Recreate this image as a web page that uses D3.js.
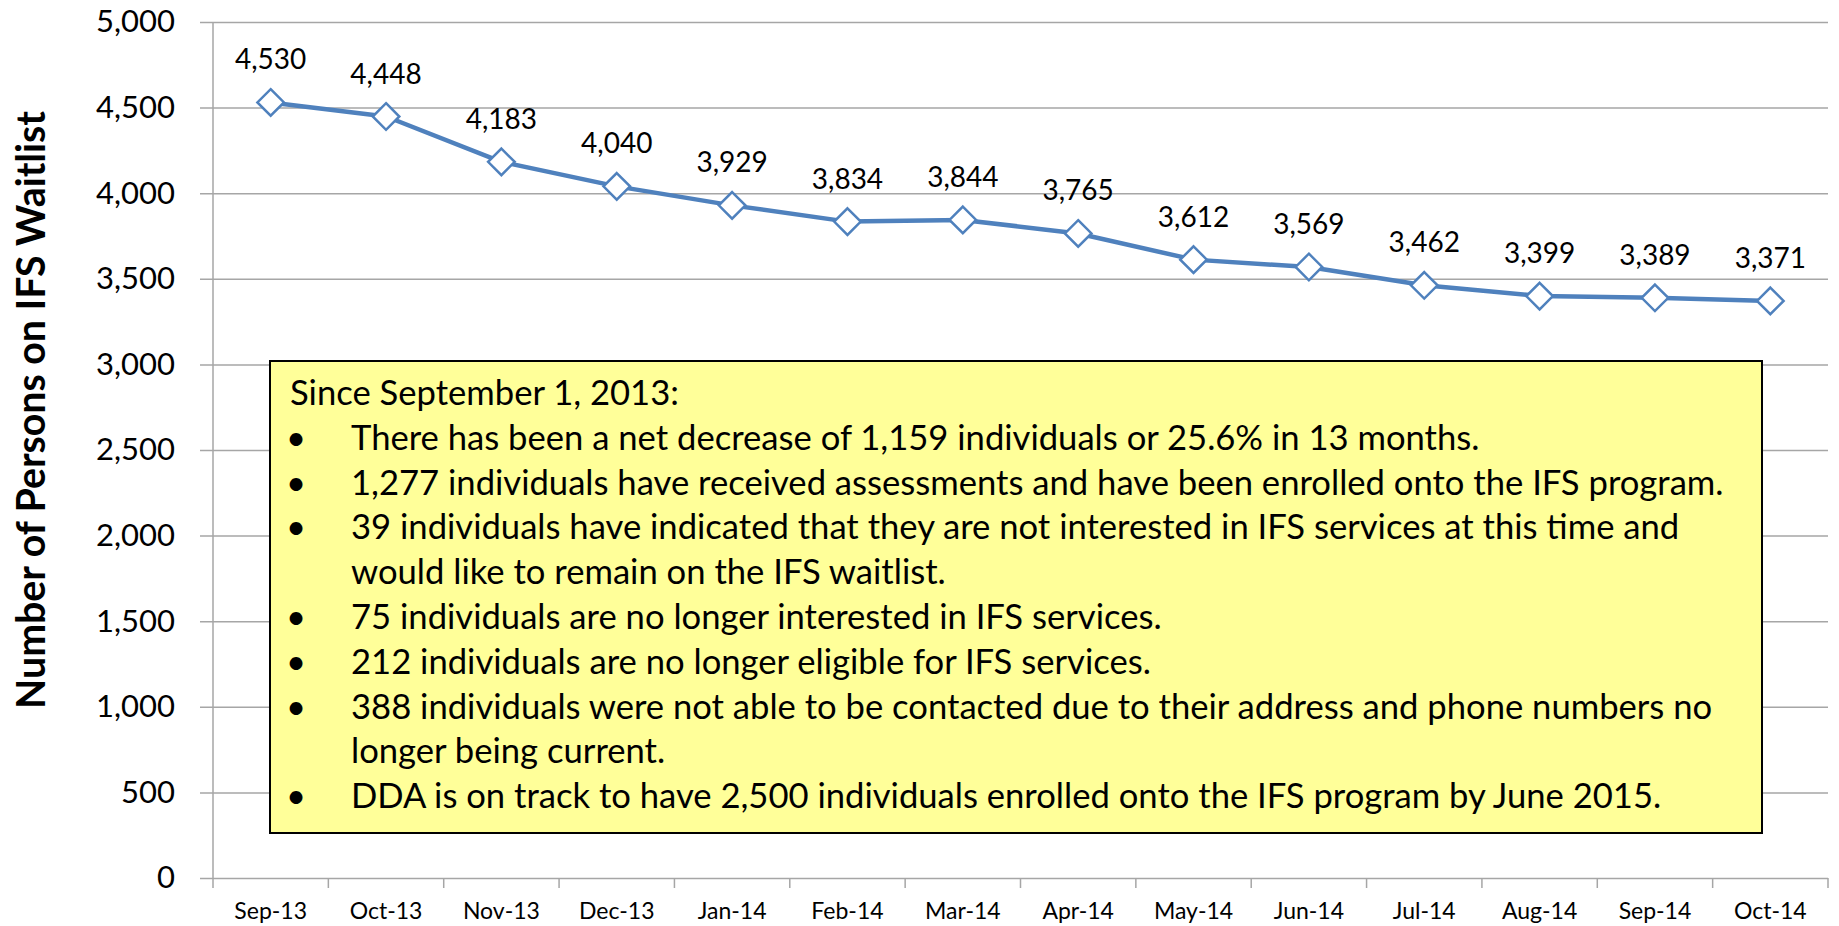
<!DOCTYPE html>
<html>
<head>
<meta charset="utf-8">
<script src="https://cdn.jsdelivr.net/npm/d3@7"></script>
<style>
  html, body { margin: 0; padding: 0; background: #fff; }
  svg { display: block; font-family: Lato, "Open Sans", sans-serif; }
</style>
</head>
<body>
<div id="chart"></div>
<script>
// Datos del gráfico
const months = ['Sep-13', 'Oct-13', 'Nov-13', 'Dec-13', 'Jan-14', 'Feb-14', 'Mar-14',
                'Apr-14', 'May-14', 'Jun-14', 'Jul-14', 'Aug-14', 'Sep-14', 'Oct-14'];
const waitlist = [4530, 4448, 4183, 4040, 3929, 3834, 3844, 3765, 3612, 3569, 3462, 3399, 3389, 3371];
const yTicks = [0, 500, 1000, 1500, 2000, 2500, 3000, 3500, 4000, 4500, 5000];
const noteTitle = 'Since September 1, 2013:';
const noteLines = [
  { bullet: true,  text: 'There has been a net decrease of 1,159 individuals or 25.6% in 13 months.' },
  { bullet: true,  text: '1,277 individuals have received assessments and have been enrolled onto the IFS program.' },
  { bullet: true,  text: '39 individuals have indicated that they are not interested in IFS services at this time and' },
  { bullet: false, text: 'would like to remain on the IFS waitlist.' },
  { bullet: true,  text: '75 individuals are no longer interested in IFS services.' },
  { bullet: true,  text: '212 individuals are no longer eligible for IFS services.' },
  { bullet: true,  text: '388 individuals were not able to be contacted due to their address and phone numbers no' },
  { bullet: false, text: 'longer being current.' },
  { bullet: true,  text: 'DDA is on track to have 2,500 individuals enrolled onto the IFS program by June 2015.' }
];

const width = 1839, height = 926;
const plot = { left: 213, right: 1828, top: 22, bottom: 878 };
const blue = '#4F81BD', grid = '#A6A6A6';
const fmt = d3.format(',');

const svg = d3.select('#chart').append('svg')
  .attr('width', width).attr('height', height);

// Escalas
const x = d3.scaleBand().domain(months).range([plot.left, plot.right]).padding(0);
const y = d3.scaleLinear().domain([0, 5000]).range([plot.bottom, plot.top]);

// Eje Y con líneas de cuadrícula
const yAxis = svg.append('g')
  .attr('transform', `translate(${plot.left - 13},0)`)
  .call(d3.axisLeft(y).tickValues(yTicks).tickFormat(fmt)
    .tickSize(-(plot.right - plot.left + 13)).tickPadding(25))
  .attr('font-family', null).attr('font-size', null);
yAxis.select('.domain').remove();
yAxis.selectAll('line').attr('stroke', grid).attr('stroke-width', 1.5);
yAxis.selectAll('text').attr('font-size', 31).attr('fill', '#000');

// Línea vertical del eje
svg.append('line')
  .attr('x1', plot.left).attr('x2', plot.left)
  .attr('y1', y(5000)).attr('y2', y(0))
  .attr('stroke', grid).attr('stroke-width', 1.5);

// Eje X
const xAxis = svg.append('g')
  .attr('transform', `translate(0,${plot.bottom})`)
  .call(d3.axisBottom(x).tickSize(0).tickPadding(25))
  .attr('font-family', null).attr('font-size', null);
xAxis.select('.domain').remove();
xAxis.selectAll('text').attr('font-size', 23).attr('fill', '#000');

// Marcas entre categorías
const bounds = months.map(m => x(m)).concat([x(months[months.length - 1]) + x.bandwidth()]);
svg.append('g').selectAll('line').data(bounds).enter().append('line')
  .attr('x1', d => d).attr('x2', d => d)
  .attr('y1', plot.bottom).attr('y2', plot.bottom + 10)
  .attr('stroke', grid).attr('stroke-width', 1.5);

// Título del eje Y (ajustado al largo del original)
const yTitle = svg.append('text')
  .attr('transform', `translate(45,410) rotate(-90)`)
  .attr('text-anchor', 'middle')
  .attr('font-size', 30).attr('font-weight', 'bold')
  .text('Number of Persons on IFS Waitlist');
const tLen = yTitle.node().getComputedTextLength();
if (tLen > 0) yTitle.attr('font-size', 30 * 598 / tLen);

// Línea de datos
const cx = m => x(m) + x.bandwidth() / 2;
const line = d3.line().x((d, i) => cx(months[i])).y(d => y(d));
svg.append('path')
  .datum(waitlist)
  .attr('d', line)
  .attr('fill', 'none').attr('stroke', blue).attr('stroke-width', 4.5)
  .attr('stroke-linejoin', 'round');

// Marcadores de rombo
svg.append('g').selectAll('path').data(waitlist).enter().append('path')
  .attr('d', d3.symbol().type(d3.symbolDiamond2).size(450))
  .attr('transform', (d, i) => `translate(${cx(months[i])},${y(d)})`)
  .attr('fill', '#fff').attr('stroke', blue).attr('stroke-width', 2.5);

// Etiquetas de datos
svg.append('g').selectAll('text').data(waitlist).enter().append('text')
  .attr('x', (d, i) => cx(months[i]))
  .attr('y', d => y(d) - 33)
  .attr('text-anchor', 'middle')
  .attr('font-size', 28)
  .text(d => fmt(d));

// Cuadro de notas
const box = { x: 270, y: 361, w: 1492, h: 472 };
svg.append('rect')
  .attr('x', box.x).attr('y', box.y).attr('width', box.w).attr('height', box.h)
  .attr('fill', '#FFFF99').attr('stroke', '#000').attr('stroke-width', 2);

const note = svg.append('g').attr('font-size', 30).attr('fill', '#000');
const lineGap = 44.8, firstBase = 405, textX = 351, bulletX = 296;
note.append('text').attr('x', 290).attr('y', firstBase).text(noteTitle);
noteLines.forEach((l, i) => {
  const by = firstBase + lineGap * (i + 1);
  if (l.bullet) {
    note.append('text').attr('x', bulletX).attr('y', by)
      .attr('text-anchor', 'middle').text('\u2022');
  }
  note.append('text').attr('class', 'note-line').attr('x', textX).attr('y', by).text(l.text);
});

// Ajustar el tamaño de letra para que la línea más larga mida lo mismo que en el original
let longest = 0;
note.selectAll('.note-line').each(function() { longest = Math.max(longest, this.getComputedTextLength()); });
if (longest > 0) note.attr('font-size', 30 * 1373 / longest);
</script>
</body>
</html>
